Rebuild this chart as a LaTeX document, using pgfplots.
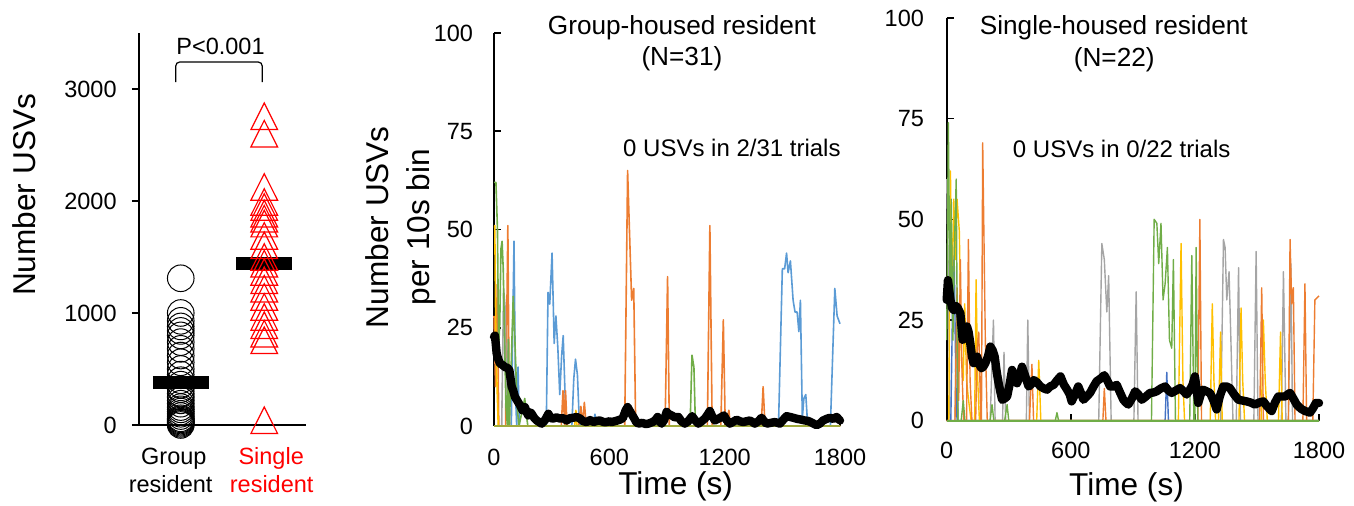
\documentclass[border=0pt]{standalone}
\usepackage{fontspec}
\setmainfont{Liberation Sans}
\usepackage{pgfplots}
\pgfplotsset{compat=1.18}
\definecolor{c1}{HTML}{5B9BD5}
\definecolor{c2}{HTML}{ED7D31}
\definecolor{c3}{HTML}{A5A5A5}
\definecolor{c4}{HTML}{FFC000}
\definecolor{c5}{HTML}{4472C4}
\definecolor{c6}{HTML}{70AD47}
\definecolor{olive}{RGB}{160,170,60}
\newcommand{\tickfont}{\fontsize{11.75}{14}\selectfont}
\newcommand{\labfont}{\fontsize{15.8}{20.8}\selectfont}
\newcommand{\titfont}{\fontsize{13.1}{15}\selectfont}
\newcommand{\annfont}{\fontsize{12}{14}\selectfont}

\begin{document}
\begin{tikzpicture}
\path[use as bounding box] (0,0) rectangle (677pt,253pt);

% ---- dot plot: total USVs per trial
\begin{axis}[
    at={(69.5pt,40.5pt)}, anchor=south west,
    scale only axis, width=83.5pt, height=196pt,
    xmin=0.5, xmax=2.5, ymin=0, ymax=3500,
    axis lines=left, axis line style={-, line width=0.8pt},
    xtick=\empty, ytick={0,1000,2000,3000},
    tick align=outside, major tick length=3.5pt,
    tick style={line width=0.8pt, black},
    /pgf/number format/assume math mode=true,
    /pgf/number format/1000 sep={},
    yticklabel style={font=\tickfont, inner sep=0pt, anchor=east, xshift=-7.5pt},
    ylabel={Number USVs},
    ylabel style={font=\labfont, at={(axis description cs:-0.685,0.587)}, anchor=center},
    clip=false,
]
\addplot[only marks, mark=o, mark size=6.65pt, mark options={black, line width=0.5pt}]
coordinates {
(1,1310) (1,1000) (1,930) (1,880) (1,840) (1,800) (1,740) (1,680) (1,620) (1,560)
(1,500) (1,450) (1,400) (1,360) (1,320) (1,280) (1,250) (1,220) (1,190) (1,160)
(1,140) (1,120) (1,100) (1,80) (1,60) (1,50) (1,40) (1,30) (1,20) (1,10) (1,0)
};
\addplot[only marks, red, mark=triangle, mark size=7.7pt,
    mark options={red, yshift=-2.2pt, yscale=1.15, line width=0.6pt}]
coordinates {
(2,2756) (2,2601) (2,2125) (2,1991) (2,1946) (2,1887) (2,1842) (2,1798) (2,1688) (2,1604) (2,1500)
(2,1440) (2,1366) (2,1292) (2,1217) (2,1143) (2,1054) (2,964) (2,890) (2,815) (2,756) (2,42)
};
% group means
\addplot[black, line width=6.5pt] coordinates {(0.665,375) (1.335,375)};
\addplot[black, line width=6.5pt] coordinates {(1.665,1445) (2.335,1445)};
\draw[line width=0.6pt, rounded corners=2pt] (axis cs:0.94,3062) -- (axis cs:0.94,3241)
    -- (axis cs:1.976,3241) -- (axis cs:1.976,3062);
\node[font=\tickfont, anchor=base] at (axis cs:1.476,3304) {P<0.001};
\node[font=\tickfont, anchor=base] at (axis cs:0.917,-351) {Group};
\node[font=\tickfont, anchor=base] at (axis cs:0.879,-604) {resident};
\node[font=\tickfont, anchor=base, red] at (axis cs:2.083,-351) {Single};
\node[font=\tickfont, anchor=base, red] at (axis cs:2.089,-604) {resident};
\end{axis}

% ---- group-housed time course
\begin{axis}[
    at={(247pt,40pt)}, anchor=south west,
    scale only axis, width=173pt, height=196.5pt,
    xmin=0, xmax=1800, ymin=0, ymax=100,
    axis lines=left, axis line style={-, line width=1.1pt},
    xtick={0,600,1200,1800}, ytick={0,25,50,75,100},
    tick align=inside, major tick length=3.5pt,
    tick style={line width=0.8pt, black},
    /pgf/number format/assume math mode=true,
    /pgf/number format/1000 sep={},
    yticklabel style={font=\tickfont, inner sep=0pt, anchor=east, xshift=-10.3pt},
    xticklabel style={font=\tickfont, inner sep=0pt, anchor=north, yshift=-11.15pt},
    xlabel={Time (s)},
    xlabel style={font=\labfont, at={(axis description cs:0.525,-0.1756)}, anchor=base},
    ylabel={Number USVs\\per 10s bin},
    ylabel style={font=\labfont, align=center, at={(axis description cs:-0.2694,0.506)}, anchor=center},
    clip=false,
    every axis plot/.append style={line width=0.8pt, line join=round},
]
\addplot[c1] coordinates {
(0,0) (90,0) (104,47) (112,8) (118,0) (125,15) (132,0) (272,0) (281,34) (290,31) (302,44)
(313,21) (322,28) (332,20) (342,8) (352,18) (360,23) (369,9) (378,0) (405,0) (415,12)
(424,17) (434,13) (444,1) (450,0) (515,0) (525,3) (535,0) (1480,0) (1500,40) (1512,40)
(1522,44) (1530,39) (1542,42) (1556,32) (1566,29) (1577,29) (1586,24) (1594,32) (1604,2)
(1612,7) (1622,8) (1632,0) (1750,0) (1773,35) (1785,28) (1800,26)
};
\addplot[c2] coordinates {
(0,28) (8,10) (17,36) (25,0) (60,0) (72,51) (80,0) (350,0) (359,9) (368,0) (372,9) (380,0)
(440,0) (452,5) (460,0) (470,6) (480,0) (680,0) (695,65) (716,32) (727,35) (737,0) (890,0)
(903,38) (912,0) (1110,0) (1123,51) (1135,0) (1180,0) (1193,27) (1203,0) (1222,4) (1230,0)
(1390,0) (1400,10) (1410,0) (1800,0)
};
\addplot[c3] coordinates {
(0,0) (40,0) (50,35) (58,30) (66,5) (74,22) (82,0) (1690,0) (1700,2) (1710,0) (1800,0)
};
\addplot[c6] coordinates {
(0,62) (10,62) (18,50) (24,20) (30,26) (36,45) (42,47) (48,40) (55,22) (62,5) (70,0)
(75,22) (80,0) (100,33) (110,20) (120,5) (130,0) (160,7) (168,3) (176,0) (1020,0)
(1030,18) (1040,15) (1048,0) (1800,0)
};
\addplot[c4] coordinates {
(0,51) (4,51) (10,20) (16,10) (22,0) (420,0) (426,4) (432,0) (1800,0)
};
\addplot[olive, line width=1pt] coordinates {(0,0) (1800,0)};
\addplot[black, line width=4.2pt, line cap=round] coordinates {
(0,22.7) (5,23) (14,18.4) (22,17) (31,15.9) (45,15.5) (57,15) (70,14.8) (80,14.2) (92,10)
(100,9) (109,7.4) (120,6.5) (135,5.3) (148,4) (161,4.8) (170,3.5) (178,2.7) (188,3.5)
(196,3.1) (210,2) (222,1.4) (235,1) (248,0.6) (265,1.5) (283,3.1) (295,2) (309,1.9)
(325,2.2) (343,1.9) (360,2) (378,1.4) (395,2) (413,2.1) (430,2.3) (447,1.9) (465,1.2)
(482,1) (500,1.5) (517,1) (535,1.3) (551,1.4) (570,1) (586,1) (600,1.2) (612,1) (635,1.3)
(655,1.6) (670,2) (685,4) (695,4.8) (710,3.5) (725,2.3) (740,1) (751,0.6) (770,0.8)
(790,0.5) (803,0.6) (825,1) (840,1.5) (851,2.3) (860,1.2) (872,0.6) (885,1.5) (898,3.6)
(910,3) (924,2.7) (940,2.2) (959,2.3) (975,1.2) (993,0.6) (1010,1.2) (1031,2.5) (1045,1.5)
(1063,0.6) (1080,1.2) (1097,1.9) (1110,2.8) (1123,3.8) (1135,2.5) (1149,1.4) (1165,1.8)
(1184,2.3) (1196,2.7) (1210,1.5) (1227,0.6) (1245,1.1) (1262,1.6) (1280,1.2) (1296,1)
(1313,1.2) (1331,1.4) (1345,1) (1357,0.6) (1375,1.2) (1392,2.1) (1405,1.2) (1418,0.6)
(1440,0.8) (1461,1) (1475,0.8) (1487,0.6) (1505,1.6) (1522,2.5) (1540,2.3) (1556,2.1)
(1578,1.8) (1600,1.6) (1617,1.4) (1634,1.3) (1655,0.8) (1678,0.2) (1695,0.6) (1712,1.4)
(1730,1.8) (1747,2.1) (1765,1.8) (1782,2.3) (1800,1.4)
};
\node[font=\titfont, anchor=base] at (axis cs:977.6,99.5) {Group-housed resident};
\node[font=\titfont, anchor=base] at (axis cs:977.6,91.6) {(N=31)};
\node[font=\annfont, anchor=base] at (axis cs:1237.6,68.6) {0 USVs in 2/31 trials};
\end{axis}

% ---- single-housed time course
\begin{axis}[
    at={(473.35pt,42.65pt)}, anchor=south west,
    scale only axis, width=186.15pt, height=201.35pt,
    xmin=0, xmax=1800, ymin=0, ymax=100,
    axis lines=left, axis line style={-, line width=0.8pt},
    xtick={0,600,1200,1800}, ytick={0,25,50,75,100},
    tick align=inside, major tick length=3.5pt,
    tick style={line width=0.8pt, black},
    /pgf/number format/assume math mode=true,
    /pgf/number format/1000 sep={},
    yticklabel style={font=\tickfont, inner sep=0pt, anchor=east, xshift=-11.2pt},
    xticklabel style={font=\tickfont, inner sep=0pt, anchor=north, yshift=-10.5pt},
    xlabel={Time (s)},
    xlabel style={font=\labfont, at={(axis description cs:0.483,-0.1847)}, anchor=base},
    clip=false,
    every axis plot/.append style={line width=0.7pt, line join=round},
]
\addplot[c3] coordinates {
(0,60) (8,35) (16,0) (40,0) (48,30) (56,0) (210,0) (226,25) (234,0) (270,0) (277,17) (285,0)
(385,0) (392,25) (400,0) (735,0) (750,44) (762,40) (774,27) (783,36) (795,0) (905,0)
(916,32) (925,0) (1325,0) (1338,45) (1346,43) (1354,30) (1365,37) (1374,20) (1384,0)
(1400,0) (1411,38) (1420,0) (1485,0) (1496,42) (1505,0) (1618,0) (1628,37) (1640,0)
(1652,0) (1664,39) (1672,0) (1800,0)
};
\addplot[c5] coordinates {
(0,0) (20,0) (30,35) (36,41) (44,10) (50,0) (1056,0) (1064,12) (1072,0) (1800,0)
};
\addplot[c4] coordinates {
(0,0) (10,0) (18,62) (26,30) (34,55) (42,40) (50,55) (61,47) (71,15) (80,10) (87,29) (96,10)
(106,5) (118,0) (135,0) (142,35) (150,10) (158,0) (435,0) (445,15) (455,0) (1120,0)
(1133,44) (1142,10) (1150,0) (1274,0) (1284,29) (1292,10) (1300,0) (1314,0) (1324,22)
(1332,0) (1413,0) (1423,28) (1431,10) (1440,0) (1521,0) (1531,25) (1540,10) (1550,0)
(1604,0) (1614,22) (1622,0) (1800,0)
};
\addplot[c2] coordinates {
(0,0) (40,0) (50,33) (58,5) (66,40) (74,12) (82,0) (96,0) (105,45) (113,10) (122,0) (140,0)
(147,18) (155,22) (165,0) (168,0) (174,69) (187,19) (196,0) (400,0) (412,14) (420,0)
(755,0) (762,8) (770,0) (1214,0) (1224,50) (1232,0) (1513,0) (1523,33) (1531,0) (1652,0)
(1660,45) (1668,29) (1676,33) (1684,0) (1722,0) (1732,34) (1740,0) (1770,0) (1780,30)
(1800,31)
};
\addplot[c6] coordinates {
(0,20) (8,74) (16,30) (22,55) (30,20) (38,45) (46,60) (54,0) (70,0) (80,5) (88,0) (210,0)
(219,4) (228,0) (280,0) (292,4) (300,0) (525,0) (533,2) (541,0) (990,0) (1003,50) (1016,49)
(1025,39) (1036,49) (1046,30) (1056,34) (1067,43) (1077,20) (1088,18) (1096,40) (1106,0)
(1175,0) (1185,41) (1195,0) (1200,0) (1206,43) (1214,0) (1800,0)
};
\addplot[c6, line width=1pt] coordinates {(0,0) (1800,0)};
\addplot[black, line width=4.2pt, line cap=round] coordinates {
(0,30) (6,34.9) (18,30) (26,28) (34,27.5) (42,28.5) (50,28.3) (58,27.5) (66,26.7) (77,20.1)
(88,21) (98,23.4) (106,22) (114,19.2) (122,16) (130,14.3) (138,15) (147,15.9) (157,14)
(168,13) (178,13.5) (187,14.3) (200,16) (211,18.4) (222,17.5) (232,15.9) (242,12) (251,9.3)
(260,7) (268,5.2) (280,5.5) (292,6) (304,9) (316,12.6) (328,11) (340,9.3) (352,11)
(364,13.4) (380,11) (396,8.5) (408,9) (421,10.1) (437,9.5) (453,8.5) (470,8) (485,7.7)
(500,8.5) (517,8.9) (533,10) (550,11) (566,9) (582,7.7) (595,6.5) (604,4.8) (620,6.5)
(636,8.5) (648,7) (661,5.2) (677,6) (693,6.9) (710,8.5) (725,9.8) (745,10.5) (762,11.3)
(776,10) (790,8.5) (806,8.5) (822,8.9) (838,7) (854,5.2) (866,4.5) (878,4) (895,5.5)
(911,7.3) (927,6.5) (943,5.2) (963,6) (983,6.9) (1000,7) (1015,7.3) (1035,8) (1056,8.5)
(1072,7.5) (1088,6.9) (1108,7.5) (1128,8.1) (1145,7.3) (1160,6.5) (1176,7.7) (1189,9)
(1200,11) (1208,8) (1216,4.4) (1228,6.5) (1240,7.7) (1256,7.3) (1273,6.9) (1290,5)
(1305,2.8) (1320,6) (1337,8.5) (1353,8.5) (1369,8.1) (1390,6.5) (1410,5.2) (1430,5)
(1450,4.8) (1470,4.5) (1490,4) (1510,4.5) (1531,4.8) (1550,3.5) (1571,2.4) (1587,4.5)
(1603,6) (1620,6) (1636,6) (1648,6.5) (1660,6.9) (1676,5.5) (1692,4) (1712,3) (1732,2.4)
(1745,2.2) (1756,2) (1770,3) (1785,4.4) (1800,4.4)
};
\node[font=\titfont, anchor=base] at (axis cs:808,95.8) {Single-housed resident};
\node[font=\titfont, anchor=base] at (axis cs:810,87.9) {(N=22)};
\node[font=\annfont, anchor=base] at (axis cs:846,65.4) {0 USVs in 0/22 trials};
\end{axis}
\end{tikzpicture}
\end{document}
